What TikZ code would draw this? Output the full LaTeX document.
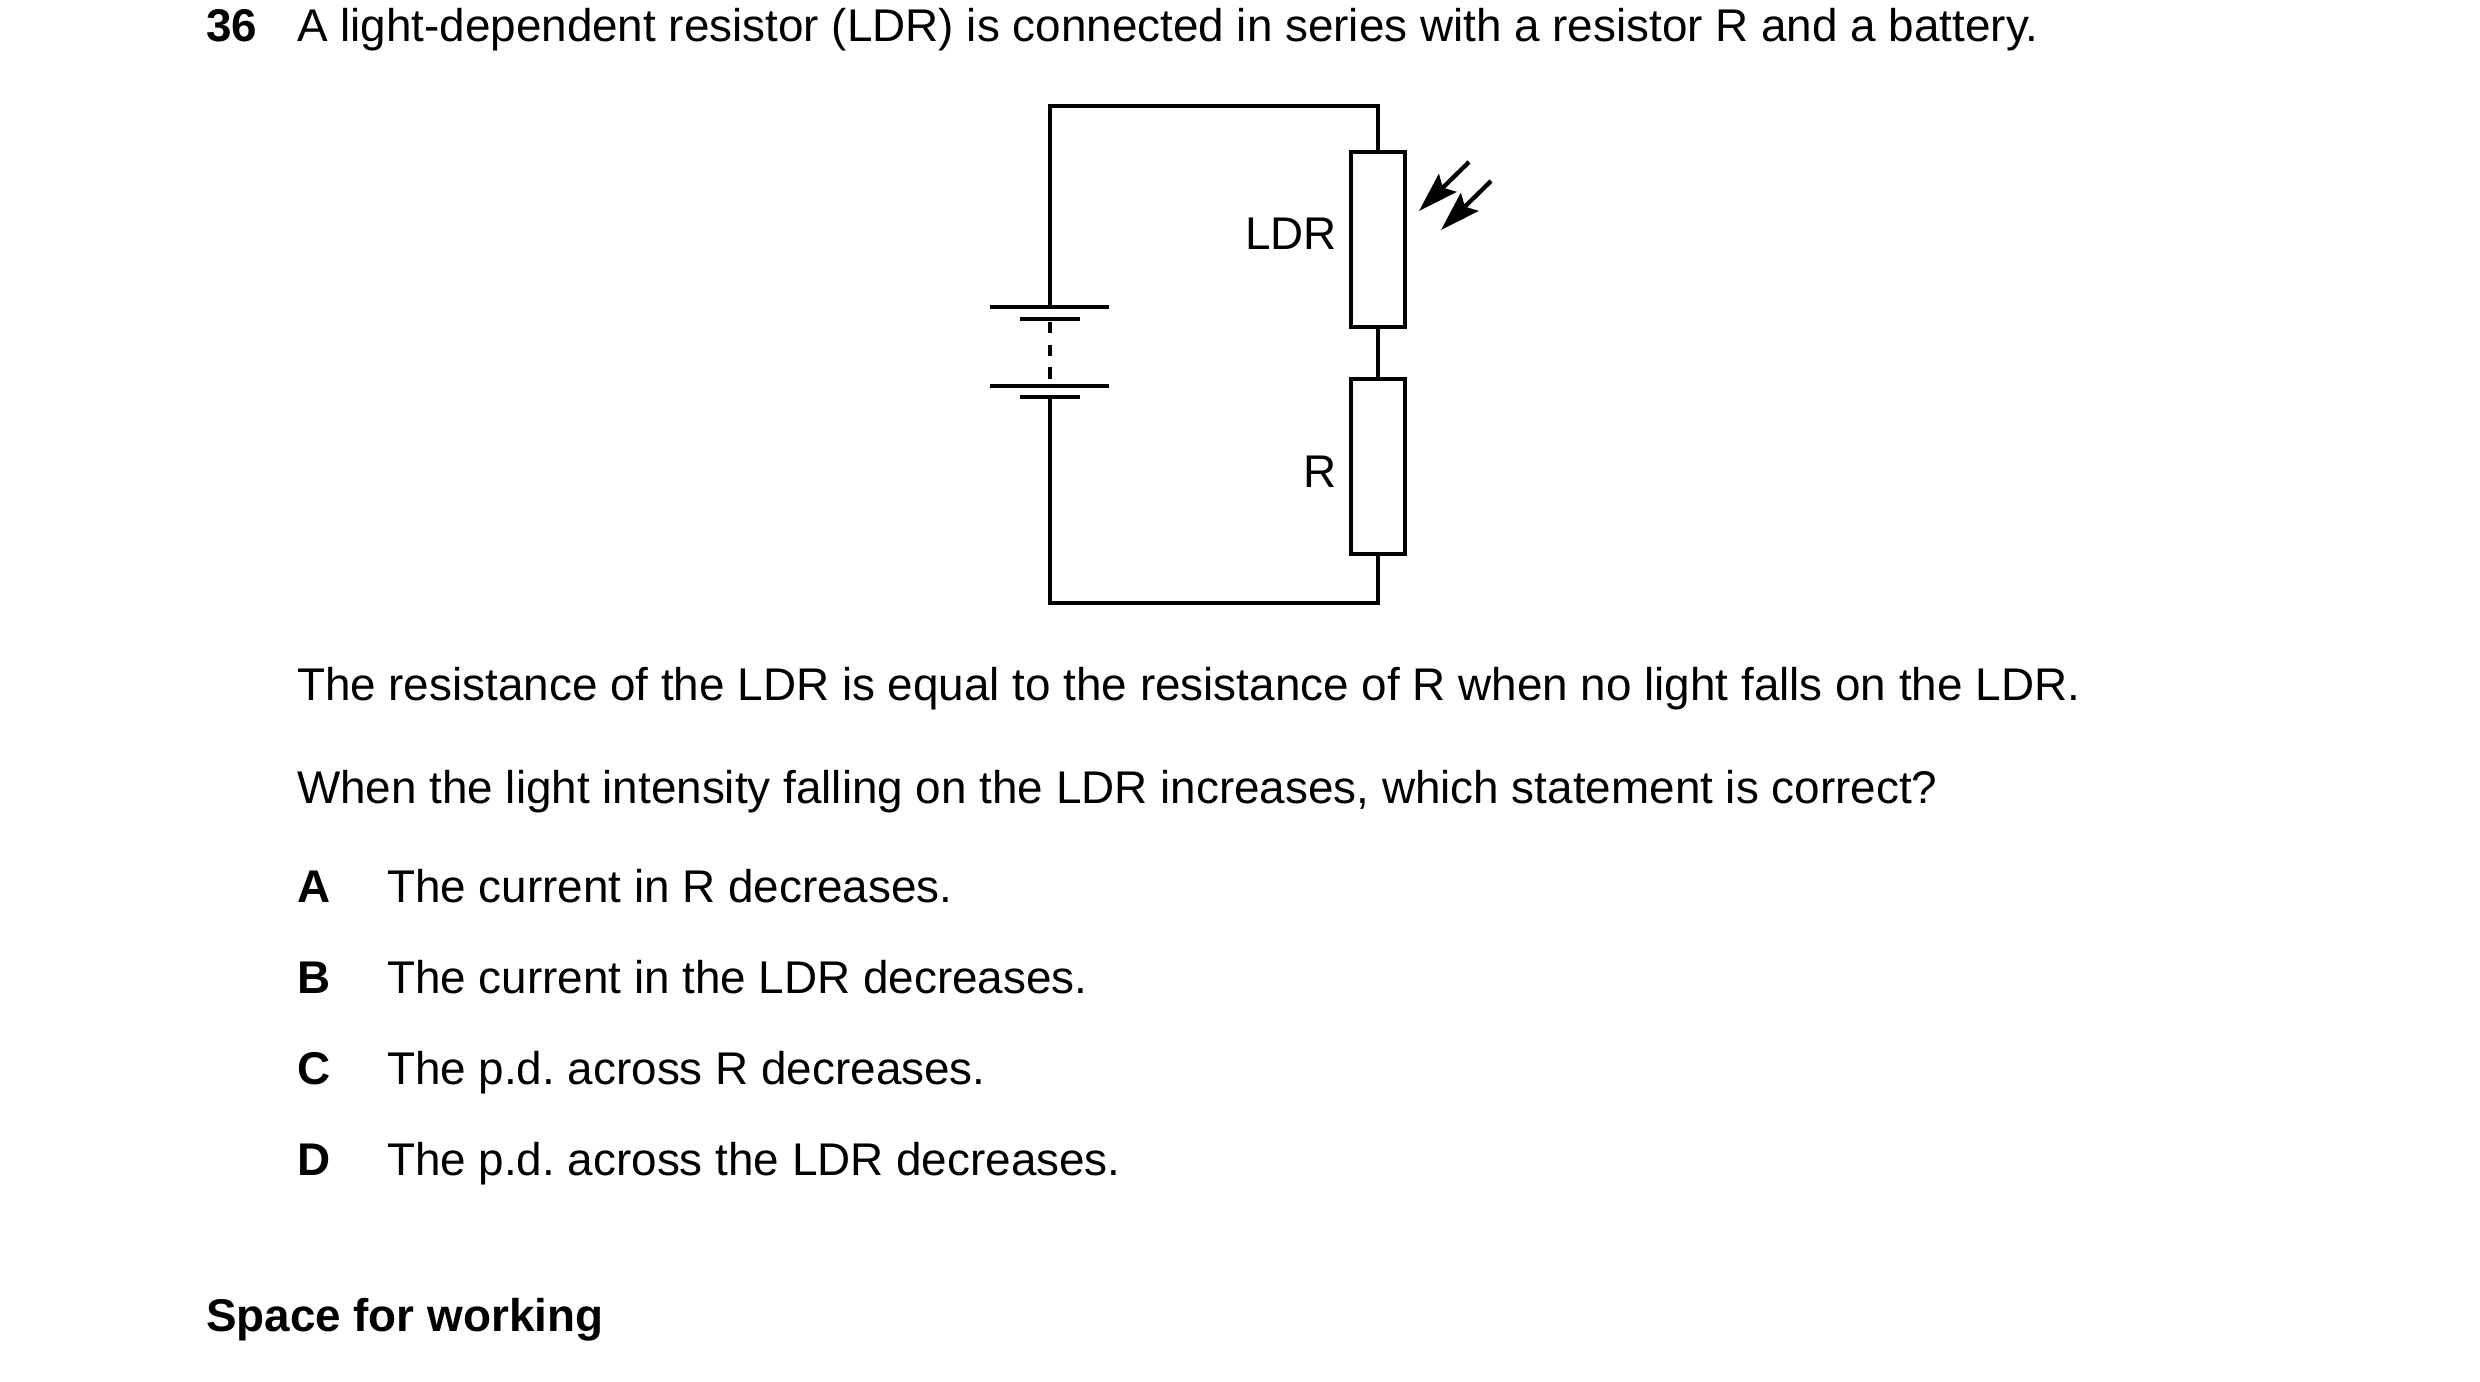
\documentclass[tikz,border=0pt]{standalone}
\usepackage{fontspec}
\setmainfont{Liberation Sans}
\usetikzlibrary{arrows.meta}
\frenchspacing
\begin{document}
\begin{tikzpicture}[x=0.3pt,y=-0.3pt,line width=1.2pt,
  txt/.style={anchor=base west,inner sep=0pt,font=\fontsize{13.75pt}{16pt}\selectfont},
  lbl/.style={anchor=base east,inner sep=0pt,font=\fontsize{13.75pt}{16pt}\selectfont},
  res/.style={draw,rectangle,minimum width=16.2pt,minimum height=52.5pt,inner sep=0pt},
  light/.style={-{Stealth[length=12pt,width=7.5pt,inset=2pt]},line width=1.3pt}]
\useasboundingbox (0,0) rectangle (2480,1381);

% question text
\node[txt,font=\fontsize{13.75pt}{16pt}\selectfont\bfseries] (num) at (204,41) {36};
\node[txt] (q) at (295,41) {A light-dependent resistor (LDR) is connected in series with a resistor R and a battery.};
\node[txt] (p1) at (295,700) {The resistance of the LDR is equal to the resistance of R when no light falls on the LDR.};
\node[txt] (p2) at (295,803) {When the light intensity falling on the LDR increases, which statement is correct?};
\node[txt,font=\fontsize{13.75pt}{16pt}\selectfont\bfseries] (la) at (295,902) {A};
\node[txt] (oa) at (385,902) {The current in R decreases.};
\node[txt,font=\fontsize{13.75pt}{16pt}\selectfont\bfseries] (lb) at (295,993) {B};
\node[txt] (ob) at (385,993) {The current in the LDR decreases.};
\node[txt,font=\fontsize{13.75pt}{16pt}\selectfont\bfseries] (lc) at (295,1084) {C};
\node[txt] (oc) at (385,1084) {The p.d. across R decreases.};
\node[txt,font=\fontsize{13.75pt}{16pt}\selectfont\bfseries] (ld) at (295,1175) {D};
\node[txt] (od) at (385,1175) {The p.d. across the LDR decreases.};
\node[txt,font=\fontsize{13.75pt}{16pt}\selectfont\bfseries] (work) at (204,1331) {Space for working};

% circuit
\node[res] (ldr) at (1378,239) {};
\node[res] (r) at (1378,466) {};
\node[lbl] (ldrl) at (1339,249) {LDR};
\node[lbl] (rl) at (1339,487) {R};
\coordinate (tl) at (1050,106);
\coordinate (tr) at (1378,106);
\coordinate (bl) at (1050,603);
\coordinate (br) at (1378,603);
\coordinate (c1) at (1050,307);
\coordinate (c2) at (1050,397);

% battery
\draw (990,307) -- (1109,307);
\draw (1020,319) -- (1080,319);
\draw (990,386) -- (1109,386);
\draw (1020,397) -- (1080,397);
\draw[line width=1pt,dash pattern=on 3.4pt off 3.4pt] (1050,322) -- (1050,386);

% wires
\draw (c1) -- (tl) -- (tr) -- (ldr.north);
\draw (ldr.south) -- (r.north);
\draw (r.south) -- (br) -- (bl) -- (c2);

% light arrows
\coordinate (a1) at (1469,162);
\coordinate (a1t) at (1419,211);
\coordinate (a2) at (1491,181);
\coordinate (a2t) at (1441,230);
\draw[light] (a1) -- (a1t);
\draw[light] (a2) -- (a2t);
\end{tikzpicture}
\end{document}
